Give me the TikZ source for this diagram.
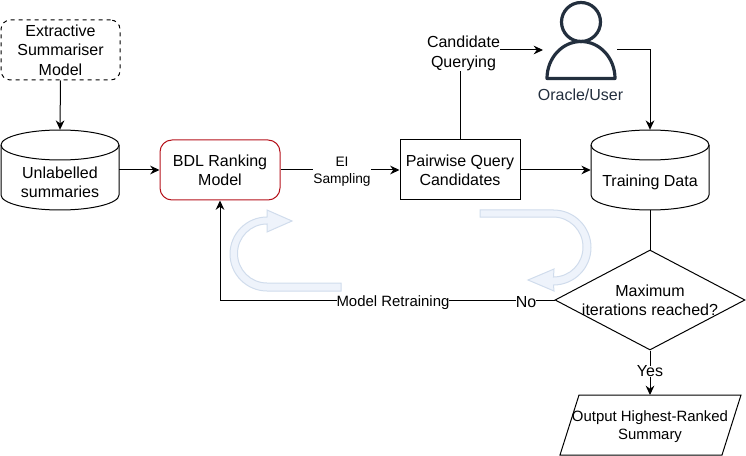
\documentclass[tikz,border=0pt]{standalone}
\usepackage{fontspec}
\setmainfont{Liberation Sans}
\usetikzlibrary{shapes.geometric,arrows.meta}
\definecolor{slate}{HTML}{232F3E}
\definecolor{curvefill}{HTML}{EEF3FB}
\definecolor{curveline}{HTML}{D0DCEC}
\definecolor{redline}{HTML}{B5121B}
\tikzset{
  lbl/.style={font=\fontsize{12}{14.5}\selectfont,align=center,inner sep=0pt},
  boxed/.style={lbl,draw,minimum width=90pt,minimum height=45pt},
  dbshape/.style={lbl,minimum width=88.5pt,minimum height=60pt,inner sep=0pt},
  conn/.style={draw,line width=.75pt,-{Stealth[length=7pt,width=6.5pt]}},
  plain/.style={draw,line width=.75pt},
  curved/.style={draw=curveline,fill=curvefill,line width=.75pt},
  tag/.style={lbl,fill=white},
}
\newcommand{\dbdraw}[2]{%
  \draw[line width=.75pt] (#1-59,#2-25) -- (#1-59,#2+25)
    arc[start angle=180,end angle=0,x radius=59,y radius=15]
    -- (#1+59,#2-25)
    arc[start angle=0,end angle=-180,x radius=59,y radius=15];
  \draw[line width=.75pt] (#1-59,#2+25)
    arc[start angle=180,end angle=360,x radius=59,y radius=15];
}
\begin{document}
\begin{tikzpicture}[x=.75pt,y=.75pt]
\useasboundingbox (0,-456) rectangle (746,0);

% curved decorative arrows
\draw[curved] (341,-283) -- (267,-283)
  .. controls (250.7,-283) and (237.5,-269.8) .. (237.5,-253.5)
  .. controls (237.5,-237.2) and (250.7,-224) .. (267,-224)
  -- (267,-232) -- (292,-221) -- (267,-210) -- (267,-217)
  .. controls (246.6,-217) and (230,-233.6) .. (230,-254)
  .. controls (230,-274.4) and (246.6,-291) .. (267,-291)
  -- (341,-291) -- cycle;
\draw[curved] (480,-210) -- (553.5,-210)
  .. controls (574.2,-210) and (591,-226.8) .. (591,-247.5)
  .. controls (591,-268.2) and (574.2,-285) .. (553.5,-285)
  -- (554,-291) -- (528,-280) -- (554,-269) -- (553.5,-277)
  .. controls (570,-277) and (583,-263.6) .. (583,-247)
  .. controls (583,-230.4) and (569.6,-217) .. (553,-217)
  -- (480,-217) -- cycle;

% nodes
\node[boxed,dashed,rounded corners=7,line width=.75pt,minimum width=89.25pt] (ext) at (60.5,-50) {Extractive\\Summariser\\Model};
\dbdraw{60}{-170}
\node[dbshape] (unl) at (60,-170) {};
\node[lbl] at (60,-182.5) {Unlabelled\\summaries};
\node[boxed,draw=redline,rounded corners=9,line width=.75pt] (bdl) at (220,-170) {BDL Ranking\\Model};
\node[boxed,line width=.75pt] (pair) at (460,-170) {Pairwise Query\\Candidates};
\dbdraw{650}{-170}
\node[dbshape] (train) at (650,-170) {};
\node[lbl] at (650,-182.5) {Training Data};
\node[diamond,draw,fill=none,line width=.75pt,inner sep=0pt,minimum width=142.5pt,minimum height=75pt,aspect=1.9] (dec) at (650,-300) {};
\node[lbl] at (650,-300) {Maximum\\iterations reached?};
\coordinate (ptl) at (579,-395);
\coordinate (ptr) at (741,-395);
\coordinate (pbr) at (722,-455);
\coordinate (pbl) at (560,-455);
\draw[line width=.75pt] (ptl) -- (ptr) -- (pbr) -- (pbl) -- cycle;
\node[lbl,font=\fontsize{11.2}{13.5}\selectfont] (out) at (650,-427) {Output Highest-Ranked\\Summary};
\coordinate (outtop) at (650,-395);

% user icon
\draw[slate,line width=2.4pt] (581,-22) circle[radius=19.5];
\draw[slate,line width=2.4pt,line join=round] (547,-78.5) arc[start angle=180,end angle=0,x radius=34,y radius=37] -- cycle;
\node[lbl,text=slate] (oracle) at (580.5,-95) {Oracle/User};
\coordinate (userin) at (543,-50);
\coordinate (userout) at (617,-50);
\coordinate (corner) at (220,-300);

% connectors
\path[conn] (ext.south) -- (unl.north);
\path[conn] (unl.east) -- (bdl.west);
\path[conn] (bdl.east) -- (pair.west);
\path[conn] (pair.east) -- (train.west);
\path[conn] (pair.north) |- (userin);
\path[conn] (userout) -| (train.north);
\path[plain] (train.south) -- (dec.north);
\path[conn] (dec.west) -- (corner) -- (bdl.south);
\path[conn] (dec.south) -- (outtop);

% connector labels
\node[tag,font=\fontsize{10.3}{13}\selectfont] (ei) at (342,-172) {EI\\Sampling};
\node[tag,font=\fontsize{12}{15}\selectfont] (cq) at (463.5,-53.5) {Candidate\\Querying};
\node[tag,font=\fontsize{11.2}{14}\selectfont] (mr) at (393,-303) {Model Retraining};
\node[tag] (no) at (526,-302) {No};
\node[tag] (yes) at (650,-371.5) {Yes};
\end{tikzpicture}
\end{document}
